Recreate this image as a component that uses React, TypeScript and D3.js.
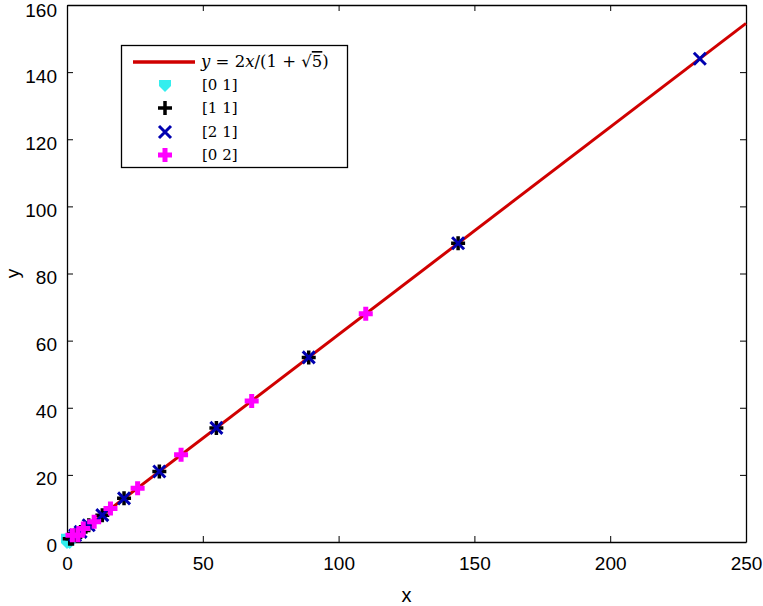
import React, { useEffect, useRef } from "react";
import * as d3 from "d3";

// series: [x, y] pairs
const seriesLabels = ["[0 1]", "[1 1]", "[2 1]", "[0 2]"];
const cyanPoints = [[0, 1], [1, 0], [1, 1], [0, 0]];
const blackPoints = [[1, 1], [2, 1], [3, 2], [5, 3], [8, 5], [13, 8], [21, 13], [34, 21], [55, 34], [89, 55], [144, 89]];
const bluePoints = [[3, 2], [5, 3], [8, 5], [13, 8], [21, 13], [34, 21], [55, 34], [89, 55], [144, 89], [233, 144]];
const magentaPoints = [[2, 2], [4, 2], [6, 4], [10, 6], [16, 10], [26, 16], [42, 26], [68, 42], [110, 68]];
const lineX = [0, 250];
const xTicks = [0, 50, 100, 150, 200, 250];
const yTicks = [0, 20, 40, 60, 80, 100, 120, 140, 160];

const phi = (1 + Math.sqrt(5)) / 2;

const App = () => {
  const ref = useRef<SVGSVGElement>(null);

  useEffect(() => {
    const svg = d3.select(ref.current);
    svg.selectAll("*").remove();

    const left = 67, right = 746, top = 5, bottom = 542;
    const x = d3.scaleLinear().domain([0, 250]).range([left, right]);
    const y = d3.scaleLinear().domain([0, 160]).range([bottom, top]);
    const font = "'Liberation Sans', Arial, sans-serif";

    // axes with inward ticks on all four sides
    const axes = [
      { g: d3.axisBottom(x).tickValues(xTicks), t: `translate(0,${bottom})`, pad: 15 },
      { g: d3.axisTop(x).tickValues(xTicks).tickFormat(() => ""), t: `translate(0,${top})`, pad: 10 },
      { g: d3.axisLeft(y).tickValues(yTicks), t: `translate(${left},0)`, pad: 10 },
      { g: d3.axisRight(y).tickValues(yTicks).tickFormat(() => ""), t: `translate(${right},0)`, pad: 10 },
    ];
    axes.forEach((a, i) => {
      const g = svg
        .append("g")
        .attr("transform", a.t)
        .call(a.g.tickSizeInner(-6).tickSizeOuter(0).tickPadding(a.pad));
      g.select(".domain").attr("stroke", "#000").attr("stroke-width", 1.3);
      g.selectAll(".tick line").attr("stroke", "#000").attr("stroke-width", 1);
      const txt = g
        .selectAll(".tick text")
        .attr("fill", "#000")
        .style("font-family", font)
        .style("font-size", "19px");
      // y labels sit a little below their ticks in the original
      if (i === 2) txt.attr("dy", (d) => (d === 160 ? "0.62em" : "0.52em"));
    });

    // fitted line
    svg
      .append("path")
      .datum(lineX)
      .attr("fill", "none")
      .attr("stroke", "#d00000")
      .attr("stroke-width", 3)
      .attr(
        "d",
        d3
          .line<number>()
          .x((d) => x(d))
          .y((d) => y(d / phi))
      );

    const cyanShape = "M-6,-5 L6,-5 L6,1 L0,7 L-6,1 Z";

    const drawCyan = (g, px, py) =>
      g.append("path").attr("d", cyanShape).attr("fill", "#33eeee").attr("transform", `translate(${px},${py})`);
    const drawBlack = (g, px, py) =>
      g
        .append("path")
        .attr("d", "M-7,0 L7,0 M0,-7 L0,7")
        .attr("stroke", "#000")
        .attr("stroke-width", 3.5)
        .attr("transform", `translate(${px},${py})`);
    const drawBlue = (g, px, py) =>
      g
        .append("path")
        .attr("d", "M-6,-6 L6,6 M-6,6 L6,-6")
        .attr("stroke", "#0000b0")
        .attr("stroke-width", 3)
        .attr("transform", `translate(${px},${py})`);
    const drawMagenta = (g, px, py) =>
      g
        .append("path")
        .attr("d", "M-7,-2.5 L-2.5,-2.5 L-2.5,-7 L2.5,-7 L2.5,-2.5 L7,-2.5 L7,2.5 L2.5,2.5 L2.5,7 L-2.5,7 L-2.5,2.5 L-7,2.5 Z")
        .attr("fill", "#ff00ff")
        .attr("transform", `translate(${px},${py})`);

    const marks = svg.append("g");
    cyanPoints.forEach((d) => drawCyan(marks, x(d[0]), y(d[1])));
    blackPoints.forEach((d) => drawBlack(marks, x(d[0]), y(d[1])));
    bluePoints.forEach((d) => drawBlue(marks, x(d[0]), y(d[1])));
    magentaPoints.forEach((d) => drawMagenta(marks, x(d[0]), y(d[1])));

    // axis titles
    svg
      .append("text")
      .attr("x", (left + right) / 2)
      .attr("y", 602)
      .attr("text-anchor", "middle")
      .style("font-family", font)
      .style("font-size", "20px")
      .text("x");
    svg
      .append("text")
      .attr("transform", `translate(19,${(top + bottom) / 2}) rotate(-90)`)
      .attr("text-anchor", "middle")
      .style("font-family", font)
      .style("font-size", "19px")
      .text("y");

    // legend
    const lg = svg.append("g");
    lg.append("rect")
      .attr("x", 121.5)
      .attr("y", 45.5)
      .attr("width", 226)
      .attr("height", 122)
      .attr("fill", "#fff")
      .attr("stroke", "#000")
      .attr("stroke-width", 1.3);
    const rowY = [62, 85, 108, 132, 155];
    lg.append("line")
      .attr("x1", 133)
      .attr("x2", 195)
      .attr("y1", rowY[0])
      .attr("y2", rowY[0])
      .attr("stroke", "#d00000")
      .attr("stroke-width", 3.5);
    const serif = "'DejaVu Serif', 'Liberation Serif', serif";
    const eq = lg
      .append("text")
      .attr("x", 201)
      .attr("y", rowY[0] + 5)
      .style("font-family", serif)
      .style("font-size", "16.5px");
    eq.append("tspan").style("font-style", "italic").text("y");
    eq.append("tspan").text(" = 2");
    eq.append("tspan").style("font-style", "italic").text("x");
    eq.append("tspan").text("/(1 + √");
    eq.append("tspan").style("text-decoration", "overline").text("5");
    eq.append("tspan").text(")");

    const drawers = [drawCyan, drawBlack, drawBlue, drawMagenta];
    seriesLabels.forEach((lab, i) => {
      drawers[i](lg, 165, rowY[i + 1]);
      lg.append("text")
        .attr("x", 202)
        .attr("y", rowY[i + 1] + 5)
        .style("font-family", serif)
        .style("font-size", "15px")
        .text(lab);
    });
  }, []);

  return (
    <svg
      ref={ref}
      width={763}
      height={606}
      style={{ position: "absolute", left: 0, top: 0, background: "#fff" }}
    />
  );
};

export default App;
